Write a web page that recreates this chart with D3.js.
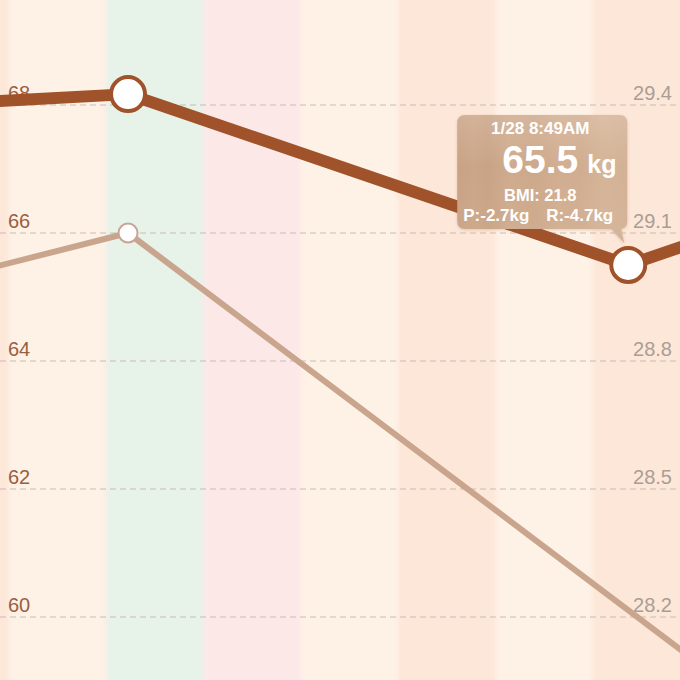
<!DOCTYPE html>
<html>
<head>
<meta charset="utf-8">
<script src="https://cdn.jsdelivr.net/npm/d3@7"></script>
<style>
html, body { margin: 0; padding: 0; background: #fdf0e6; }
svg { display: block; font-family: "Liberation Sans", Arial, sans-serif; }
</style>
</head>
<body>
<div id="chart"></div>
<script>
// one band per day
var days = ["2015-01-21", "2015-01-22", "2015-01-23", "2015-01-24", "2015-01-25", "2015-01-26", "2015-01-27", "2015-01-28"];
var dayMood = ["peach", "cream", "mint", "pink", "cream", "peach", "cream", "peach"];

// weight (left axis, kg)
var weightTimes = ["2015-01-21 12:00", "2015-01-23 05:26", "2015-01-28 08:49", "2015-01-29 08:00"];
var weightValues = [68.03, 68.17, 65.5, 66.0];

// second series (right axis)
var fatTimes = ["2015-01-21 12:00", "2015-01-23 05:26", "2015-01-29 08:00"];
var fatValues = [29.0, 29.1, 28.05];

var leftTicks = [60, 62, 64, 66, 68];
var rightTicks = [28.2, 28.5, 28.8, 29.1, 29.4];

// tooltip for the selected reading
var selected = 2;
var tipDate = "1/28 8:49AM";
var tipWeight = "65.5";
var tipUnit = "kg";
var tipBmi = "BMI: 21.8";
var tipDiff = ["P:-2.7kg", "R:-4.7kg"];

var width = 680, height = 680;
var parseDay = d3.timeParse("%Y-%m-%d");
var parseTime = d3.timeParse("%Y-%m-%d %H:%M");

var x = d3.scaleTime()
    .domain([parseDay("2015-01-22"), parseDay("2015-01-29")])
    .range([8.7, 689.8]);
var yL = d3.scaleLinear().domain([60, 68]).range([617, 105]);
var yR = d3.scaleLinear().domain([28.2, 29.4]).range([617, 105]);

var moodColor = d3.scaleOrdinal()
    .domain(["peach", "cream", "mint", "pink"])
    .range(["#fde7d8", "#fef1e6", "#e7f2e9", "#fde8e8"]);

var weight = weightTimes.map((t, i) => { return {t: parseTime(t), v: weightValues[i]}; });
var fat = fatTimes.map((t, i) => { return {t: parseTime(t), v: fatValues[i]}; });

var svg = d3.select("#chart").append("svg")
    .attr("width", width)
    .attr("height", height);

var defs = svg.append("defs");
defs.append("clipPath").attr("id", "clip")
  .append("rect").attr("width", width).attr("height", height);

var blur = defs.append("filter").attr("id", "soft")
    .attr("x", "-5%").attr("y", "-5%").attr("width", "110%").attr("height", "110%");
blur.append("feGaussianBlur").attr("stdDeviation", "2 0");

var shadow = defs.append("filter").attr("id", "shadow")
    .attr("x", "-10%").attr("y", "-10%").attr("width", "120%").attr("height", "130%");
shadow.append("feDropShadow").attr("dx", 0).attr("dy", 1).attr("stdDeviation", 1.5)
    .attr("flood-color", "#8a5a3a").attr("flood-opacity", 0.25);

// wood-like fill for the tooltip
var wood = defs.append("linearGradient").attr("id", "wood")
    .attr("x1", "0%").attr("x2", "100%").attr("y1", "0%").attr("y2", "0%");
[[0, "#c9a284"], [0.1, "#cca688"], [0.18, "#c9a385"], [0.3, "#cfab8d"], [0.45, "#cda98b"],
 [0.6, "#d2ae91"], [0.72, "#d0ad90"], [0.86, "#d5b497"], [1, "#d3b195"]].forEach(s => {
    wood.append("stop").attr("offset", s[0]).attr("stop-color", s[1]);
});
var woodTop = defs.append("linearGradient").attr("id", "woodTop")
    .attr("x1", "0%").attr("x2", "0%").attr("y1", "0%").attr("y2", "100%");
woodTop.append("stop").attr("offset", 0).attr("stop-color", "#fff").attr("stop-opacity", 0.15);
woodTop.append("stop").attr("offset", 0.4).attr("stop-color", "#fff").attr("stop-opacity", 0);
woodTop.append("stop").attr("offset", 1).attr("stop-color", "#fff").attr("stop-opacity", 0.04);

var g = svg.append("g").attr("clip-path", "url(#clip)");

// day bands
g.append("g").attr("filter", "url(#soft)")
  .selectAll("rect").data(days).enter().append("rect")
    .attr("x", d => x(parseDay(d)))
    .attr("width", d => x(d3.timeDay.offset(parseDay(d), 1)) - x(parseDay(d)) + 0.5)
    .attr("y", -10)
    .attr("height", height + 20)
    .attr("fill", (d, i) => moodColor(dayMood[i]));

// dashed grid
g.append("g").selectAll("line").data(leftTicks).enter().append("line")
    .attr("x1", 0).attr("x2", width)
    .attr("y1", d => yL(d)).attr("y2", d => yL(d))
    .attr("stroke", "#c9bcb2")
    .attr("stroke-width", 1)
    .attr("stroke-dasharray", "6,4");

// left axis labels
var axL = g.append("g")
    .attr("transform", "translate(8,0)")
    .call(d3.axisRight(yL).tickValues(leftTicks).tickSize(0).tickPadding(0));
axL.select(".domain").remove();
axL.selectAll("text")
    .attr("dy", "-0.3em")
    .attr("fill", "#9a5f40")
    .style("font-size", "20px")
    .style("font-family", "'Liberation Sans', Arial, sans-serif");

// right axis labels
var axR = g.append("g")
    .attr("transform", "translate(672,0)")
    .call(d3.axisLeft(yR).tickValues(rightTicks).tickFormat(d3.format(".1f")).tickSize(0).tickPadding(0));
axR.select(".domain").remove();
axR.selectAll("text")
    .attr("dy", "-0.3em")
    .attr("fill", "#ab9d94")
    .style("font-size", "20px")
    .style("font-family", "'Liberation Sans', Arial, sans-serif");

var lineL = d3.line().x(d => x(d.t)).y(d => yL(d.v));
var lineR = d3.line().x(d => x(d.t)).y(d => yR(d.v));

g.append("path")
    .datum(fat)
    .attr("fill", "none")
    .attr("stroke", "#c8a58c")
    .attr("stroke-width", 6)
    .attr("stroke-linejoin", "round")
    .attr("d", lineR);

g.append("path")
    .datum(weight)
    .attr("fill", "none")
    .attr("stroke", "#a0532a")
    .attr("stroke-width", 12)
    .attr("stroke-linejoin", "round")
    .attr("d", lineL);

var visible = d => { var px = x(d.t); return px > 0 && px < width; };

g.append("g").selectAll("circle").data(fat.filter(visible)).enter().append("circle")
    .attr("cx", d => x(d.t)).attr("cy", d => yR(d.v))
    .attr("r", 9.5)
    .attr("fill", "#fff")
    .attr("stroke", "#c9a496")
    .attr("stroke-width", 2);

g.append("g").selectAll("circle").data(weight.filter(visible)).enter().append("circle")
    .attr("cx", d => x(d.t)).attr("cy", d => yL(d.v))
    .attr("r", 17)
    .attr("fill", "#fff")
    .attr("stroke", "#a0532a")
    .attr("stroke-width", 4);

// tooltip above the selected reading
var px = x(weight[selected].t), py = yL(weight[selected].v);
var x0 = px - 171, x1 = px - 1, y0 = py - 150, y1 = py - 36, r = 8;
var tipPath = "M" + (x0 + r) + "," + y0 +
    "H" + (x1 - r) + "Q" + x1 + "," + y0 + " " + x1 + "," + (y0 + r) +
    "V" + (y1 - r) + "Q" + x1 + "," + y1 + " " + (x1 - r) + "," + y1 +
    "H" + (px - 7) + "L" + (px - 4) + "," + (py - 22) + "L" + (px - 17) + "," + y1 +
    "H" + (x0 + r) + "Q" + x0 + "," + y1 + " " + x0 + "," + (y1 - r) +
    "V" + (y0 + r) + "Q" + x0 + "," + y0 + " " + (x0 + r) + "," + y0 + "Z";

var tip = g.append("g");
tip.append("path").attr("d", tipPath).attr("fill", "url(#wood)").attr("filter", "url(#shadow)");
tip.append("path").attr("d", tipPath).attr("fill", "url(#woodTop)");

var cx = (x0 + x1) / 2 - 2;
tip.append("text")
    .attr("x", cx).attr("y", y0 + 19)
    .attr("text-anchor", "middle")
    .attr("fill", "#fff")
    .style("font-size", "17px")
    .style("font-weight", "bold")
    .text(tipDate);
tip.append("text")
    .attr("x", cx + 38).attr("y", y0 + 58)
    .attr("text-anchor", "end")
    .attr("fill", "#fff")
    .style("font-size", "39px")
    .style("font-weight", "bold")
    .text(tipWeight);
tip.append("text")
    .attr("x", cx + 47).attr("y", y0 + 58)
    .attr("fill", "#fff")
    .style("font-size", "25px")
    .style("font-weight", "bold")
    .text(tipUnit);
tip.append("text")
    .attr("x", cx).attr("y", y0 + 86)
    .attr("text-anchor", "middle")
    .attr("fill", "#fff")
    .style("font-size", "16.5px")
    .style("font-weight", "bold")
    .text(tipBmi);
tip.append("text")
    .attr("x", x0 + 6).attr("y", y0 + 106)
    .attr("fill", "#fff")
    .style("font-size", "17px")
    .style("font-weight", "bold")
    .text(tipDiff[0]);
tip.append("text")
    .attr("x", x1 - 14).attr("y", y0 + 106)
    .attr("text-anchor", "end")
    .attr("fill", "#fff")
    .style("font-size", "17px")
    .style("font-weight", "bold")
    .text(tipDiff[1]);
</script>
</body>
</html>
